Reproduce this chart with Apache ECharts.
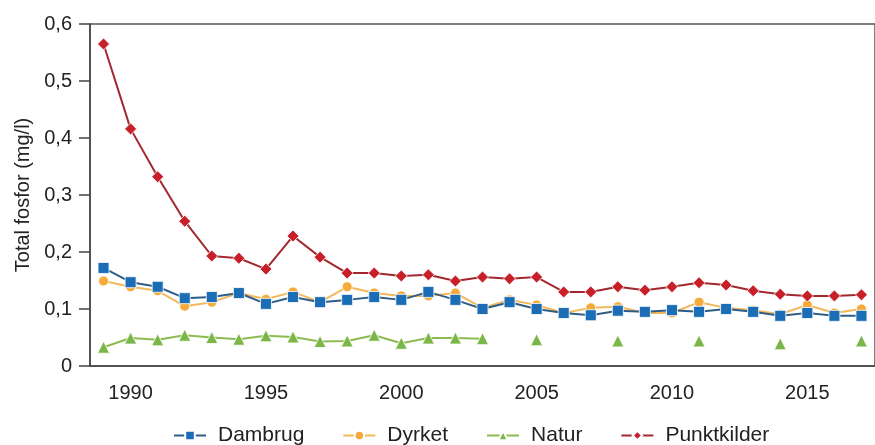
<!DOCTYPE html>
<html>
<head>
<meta charset="utf-8">
<script src="https://cdn.jsdelivr.net/npm/echarts@6/dist/echarts.min.js"></script>
<style>
  html, body { margin: 0; padding: 0; background: #fff; }
  #chart { width: 875px; height: 445px; }
</style>
</head>
<body>
<div id="chart"></div>
<script>
// years on the x axis
var years = [1989, 1990, 1991, 1992, 1993, 1994, 1995, 1996, 1997, 1998,
             1999, 2000, 2001, 2002, 2003, 2004, 2005, 2006, 2007, 2008,
             2009, 2010, 2011, 2012, 2013, 2014, 2015, 2016, 2017];

var dambrug = [0.172, 0.147, 0.139, 0.119, 0.121, 0.128, 0.109, 0.121, 0.112, 0.116,
               0.121, 0.116, 0.130, 0.116, 0.100, 0.112, 0.100, 0.093, 0.089, 0.097,
               0.095, 0.098, 0.095, 0.100, 0.095, 0.088, 0.093, 0.088, 0.088];

var dyrket = [0.149, 0.139, 0.132, 0.105, 0.112, 0.128, 0.117, 0.130, 0.112, 0.139,
              0.128, 0.123, 0.123, 0.128, 0.102, 0.116, 0.107, 0.093, 0.102, 0.104,
              0.093, 0.093, 0.112, 0.102, 0.098, 0.091, 0.107, 0.093, 0.100];

var natur = [0.033, 0.049, 0.046, 0.054, 0.050, 0.047, 0.053, 0.051, 0.043, 0.044,
             0.054, 0.040, 0.049, 0.049, 0.048, null, 0.046, null, null, 0.044,
             null, null, 0.044, null, null, 0.039, null, null, 0.044];

var punktkilder = [0.565, 0.416, 0.332, 0.254, 0.193, 0.189, 0.170, 0.228, 0.191, 0.163,
                   0.163, 0.158, 0.160, 0.149, 0.156, 0.153, 0.156, 0.130, 0.130, 0.139,
                   0.133, 0.139, 0.146, 0.142, 0.132, 0.126, 0.123, 0.123, 0.125];

var yTicks = ['0', '0,1', '0,2', '0,3', '0,4', '0,5', '0,6'];

var font = 'Liberation Sans, Arial, sans-serif';
var myChart = echarts.init(document.getElementById('chart'));

function lineSeries(name, data, symbol, size, markColor, lineColor, z) {
  return {
    name: name,
    type: 'line',
    data: data,
    symbol: symbol,
    symbolSize: size,
    connectNulls: false,
    showSymbol: true,
    animation: false,
    z: z,
    itemStyle: { color: markColor, borderColor: '#fff', borderWidth: 0.8 },
    lineStyle: { color: lineColor, width: 2 }
  };
}

var option = {
  backgroundColor: '#fff',
  textStyle: { fontFamily: font },
  grid: {
    left: 90, top: 24, bottom: 79, right: -7,
    show: true, borderColor: '#555', borderWidth: 1.5
  },
  legend: {
    left: 173,
    top: 425,
    padding: 0,
    itemWidth: 32,
    itemHeight: 12,
    itemGap: 38,
    textStyle: { fontFamily: font, fontSize: 21, color: '#222', padding: [0, 0, 0, 7] },
    data: ['Dambrug', 'Dyrket', 'Natur', 'Punktkilder']
  },
  xAxis: [
    {
      type: 'category',
      data: years,
      boundaryGap: true,
      axisLine: { lineStyle: { color: '#444', width: 1.5 } },
      axisTick: { alignWithLabel: true, interval: 0, length: 5, lineStyle: { color: '#444', width: 1.5 } },
      axisLabel: {
        interval: function (i, v) { return Number(v) % 5 === 0; },
        margin: 17,
        fontSize: 20,
        color: '#222',
        fontFamily: font
      }
    },
    {
      type: 'category',
      data: years,
      position: 'bottom',
      boundaryGap: true,
      axisLine: { show: false },
      axisLabel: { show: false },
      axisTick: {
        alignWithLabel: true,
        interval: function (i, v) { return Number(v) % 5 === 0; },
        length: 11,
        lineStyle: { color: '#444', width: 1.5 }
      }
    }
  ],
  yAxis: {
    type: 'value',
    min: 0,
    max: 0.6,
    interval: 0.1,
    name: 'Total fosfor (mg/l)',
    nameLocation: 'middle',
    nameGap: 54,
    nameTextStyle: { fontSize: 20, color: '#222', fontFamily: font },
    splitLine: { show: false },
    axisLine: { show: true, lineStyle: { color: '#444', width: 1.5 } },
    axisTick: { show: true, length: 11, lineStyle: { color: '#444', width: 1.5 } },
    axisLabel: {
      margin: 18,
      fontSize: 20,
      color: '#222',
      fontFamily: font,
      formatter: function (v) { return yTicks[Math.round(v * 10)]; }
    }
  },
  series: [
    lineSeries('Dambrug', dambrug, 'rect', 11, '#1b6db5', '#2e5e88', 4),
    lineSeries('Dyrket', dyrket, 'circle', 10, '#f5ab3c', '#f2b85c', 3),
    lineSeries('Natur', natur, 'triangle', 12, '#7ab648', '#8cbc50', 3),
    lineSeries('Punktkilder', punktkilder, 'diamond', 12, '#c8202b', '#a3282e', 5)
  ]
};

myChart.setOption(option, true);
</script>
</body>
</html>
